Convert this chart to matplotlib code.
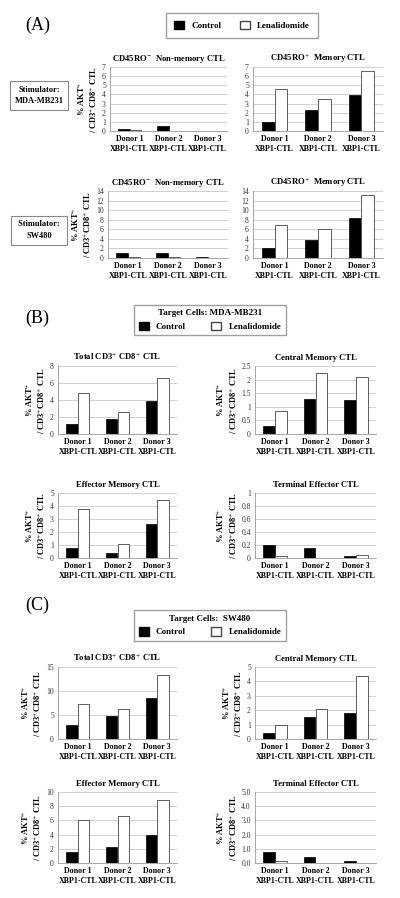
import matplotlib.pyplot as plt
from matplotlib.patches import Patch

plt.rcParams['font.family'] = ['Liberation Serif', 'DejaVu Serif']
plt.rcParams['mathtext.fontset'] = 'stix'

donors = ['Donor 1\nXBP1-CTL', 'Donor 2\nXBP1-CTL', 'Donor 3\nXBP1-CTL']

# panel A, stimulator MDA-MB231
a1_non_ctrl = [0.2, 0.55, 0.03]
a1_non_len = [0.12, 0.0, 0.03]
a1_mem_ctrl = [1.0, 2.3, 3.9]
a1_mem_len = [4.6, 3.55, 6.6]
# panel A, stimulator SW480
a2_non_ctrl = [1.0, 1.1, 0.2]
a2_non_len = [0.2, 0.2, 0.05]
a2_mem_ctrl = [2.0, 3.7, 8.3]
a2_mem_len = [7.0, 6.1, 13.2]
# panel B, target MDA-MB231
b_tot_ctrl = [1.2, 1.8, 3.9]
b_tot_len = [4.8, 2.6, 6.6]
b_cm_ctrl = [0.3, 1.28, 1.25]
b_cm_len = [0.85, 2.25, 2.1]
b_em_ctrl = [0.75, 0.35, 2.6]
b_em_len = [3.8, 1.05, 4.5]
b_te_ctrl = [0.2, 0.16, 0.03]
b_te_len = [0.03, 0.0, 0.04]
# panel C, target SW480
c_tot_ctrl = [3.0, 4.8, 8.6]
c_tot_len = [7.2, 6.3, 13.3]
c_cm_ctrl = [0.4, 1.5, 1.8]
c_cm_len = [1.0, 2.1, 4.4]
c_em_ctrl = [1.5, 2.2, 4.0]
c_em_len = [6.0, 6.6, 8.9]
c_te_ctrl = [0.8, 0.45, 0.12]
c_te_len = [0.12, 0.0, 0.02]

YLAB = '% AKT$^{+}$\n/ CD3$^{+}$CD8$^{+}$ CTL'
W, H = 400, 898

fig = plt.figure(figsize=(4, 8.98), dpi=100)


def px_axes(x0, x1, y0, y1):
    return fig.add_axes([x0 / W, 1 - y1 / H, (x1 - x0) / W, (y1 - y0) / H])


def bar_panel(box, ctrl, lena, ymax, step, title, ylabel=True, fmt=None):
    ax = px_axes(*box)
    x = range(len(donors))
    w = 0.29
    ax.bar([i - w / 2 for i in x], ctrl, w, color='black', edgecolor='black', linewidth=0.5, zorder=3)
    ax.bar([i + w / 2 for i in x], lena, w, color='white', edgecolor='#444444', linewidth=0.6, zorder=3)
    ax.set_xlim(-0.5, 2.5)
    ax.set_ylim(0, ymax)
    ticks = []
    t = 0.0
    while t <= ymax + 1e-9:
        ticks.append(round(t, 3))
        t += step
    ax.set_yticks(ticks)
    if fmt:
        ax.set_yticklabels([fmt % v for v in ticks])
    else:
        ax.set_yticklabels(['%g' % v for v in ticks])
    ax.yaxis.grid(True, color='#c8c8c8', linewidth=0.6, zorder=0)
    ax.set_xticks(list(x))
    ax.set_xticklabels(donors, fontsize=5.8, fontweight='bold', linespacing=1.35)
    ax.tick_params(axis='y', labelsize=5.5, length=0, pad=3, colors='#333333')
    ax.tick_params(axis='x', length=0, pad=3)
    for s in ['top', 'right']:
        ax.spines[s].set_visible(False)
    ax.spines['left'].set_color('#999999')
    ax.spines['bottom'].set_color('#999999')
    ax.spines['left'].set_linewidth(0.6)
    ax.spines['bottom'].set_linewidth(0.6)
    ax.set_title(title, fontsize=6.2, fontweight='bold', pad=4)
    if ylabel:
        ax.set_ylabel(YLAB, fontsize=6, fontweight='bold', linespacing=1.1, labelpad=2)
    return ax


handles = [Patch(facecolor='black', edgecolor='black', label='Control'),
           Patch(facecolor='white', edgecolor='#444444', label='Lenalidomide')]

# ---- panel A ----
fig.text(25 / W, 1 - 25 / H, '(A)', fontsize=13, va='center', ha='left')
fig.legend(handles=handles, loc='center', bbox_to_anchor=(242 / W, 1 - 25.5 / H), ncol=2,
           fancybox=False, edgecolor='#888888', prop={'weight': 'bold', 'size': 6.5},
           handlelength=1.1, handleheight=1.1, columnspacing=2.0, borderpad=0.9)

bar_panel((110, 227, 67, 131), a1_non_ctrl, a1_non_len, 7, 1, 'CD45RO$^{-}$  Non-memory CTL')
bar_panel((253, 383, 67, 131), a1_mem_ctrl, a1_mem_len, 7, 1, 'CD45RO$^{+}$  Memory CTL', ylabel=False)
bar_panel((108, 228, 191, 258), a2_non_ctrl, a2_non_len, 14, 2, 'CD45RO$^{-}$  Non-memory CTL')
bar_panel((253, 383, 191, 258), a2_mem_ctrl, a2_mem_len, 14, 2, 'CD45RO$^{+}$  Memory CTL', ylabel=False)

fig.text(39 / W, 1 - 95.5 / H, 'Stimulator:\nMDA-MB231', fontsize=6, fontweight='bold',
         ha='center', va='center', linespacing=1.5,
         bbox=dict(boxstyle='square,pad=0.55', facecolor='white', edgecolor='#888888', linewidth=0.8))
fig.text(39 / W, 1 - 230 / H, ' Stimulator: \nSW480', fontsize=6, fontweight='bold',
         ha='center', va='center', linespacing=1.5,
         bbox=dict(boxstyle='square,pad=0.6', facecolor='white', edgecolor='#888888', linewidth=0.8))

# ---- panel B ----
fig.text(25 / W, 1 - 318 / H, '(B)', fontsize=13, va='center', ha='left')
fig.legend(handles=handles, loc='center', bbox_to_anchor=(210 / W, 1 - 320 / H), ncol=2,
           fancybox=False, edgecolor='#888888', prop={'weight': 'bold', 'size': 6.5},
           title='Target Cells: MDA-MB231', title_fontproperties={'weight': 'bold', 'size': 6.5},
           handlelength=1.1, handleheight=1.1, columnspacing=2.8, borderpad=0.5)

bar_panel((58, 177, 366, 434), b_tot_ctrl, b_tot_len, 8, 2, 'Total CD3$^{+}$ CD8$^{+}$ CTL')
bar_panel((255, 376, 366, 434), b_cm_ctrl, b_cm_len, 2.5, 0.5, 'Central Memory CTL')
bar_panel((58, 177, 493, 558), b_em_ctrl, b_em_len, 5, 1, 'Effector Memory CTL')
bar_panel((255, 376, 493, 558), b_te_ctrl, b_te_len, 1, 0.2, 'Terminal Effector CTL')

# ---- panel C ----
fig.text(25 / W, 1 - 605 / H, '(C)', fontsize=13, va='center', ha='left')
fig.legend(handles=handles, loc='center', bbox_to_anchor=(210 / W, 1 - 625.5 / H), ncol=2,
           fancybox=False, edgecolor='#888888', prop={'weight': 'bold', 'size': 6.5},
           title='Target Cells:  SW480', title_fontproperties={'weight': 'bold', 'size': 6.5},
           handlelength=1.1, handleheight=1.1, columnspacing=2.8, borderpad=0.5)

bar_panel((58, 177, 667, 739), c_tot_ctrl, c_tot_len, 15, 5, 'Total CD3$^{+}$ CD8$^{+}$ CTL')
bar_panel((255, 376, 667, 739), c_cm_ctrl, c_cm_len, 5, 1, 'Central Memory CTL')
bar_panel((58, 177, 792, 863), c_em_ctrl, c_em_len, 10, 2, 'Effector Memory CTL')
bar_panel((255, 376, 792, 863), c_te_ctrl, c_te_len, 5, 1, 'Terminal Effector CTL', fmt='%.1f')

fig.savefig('out.png', dpi=100)
